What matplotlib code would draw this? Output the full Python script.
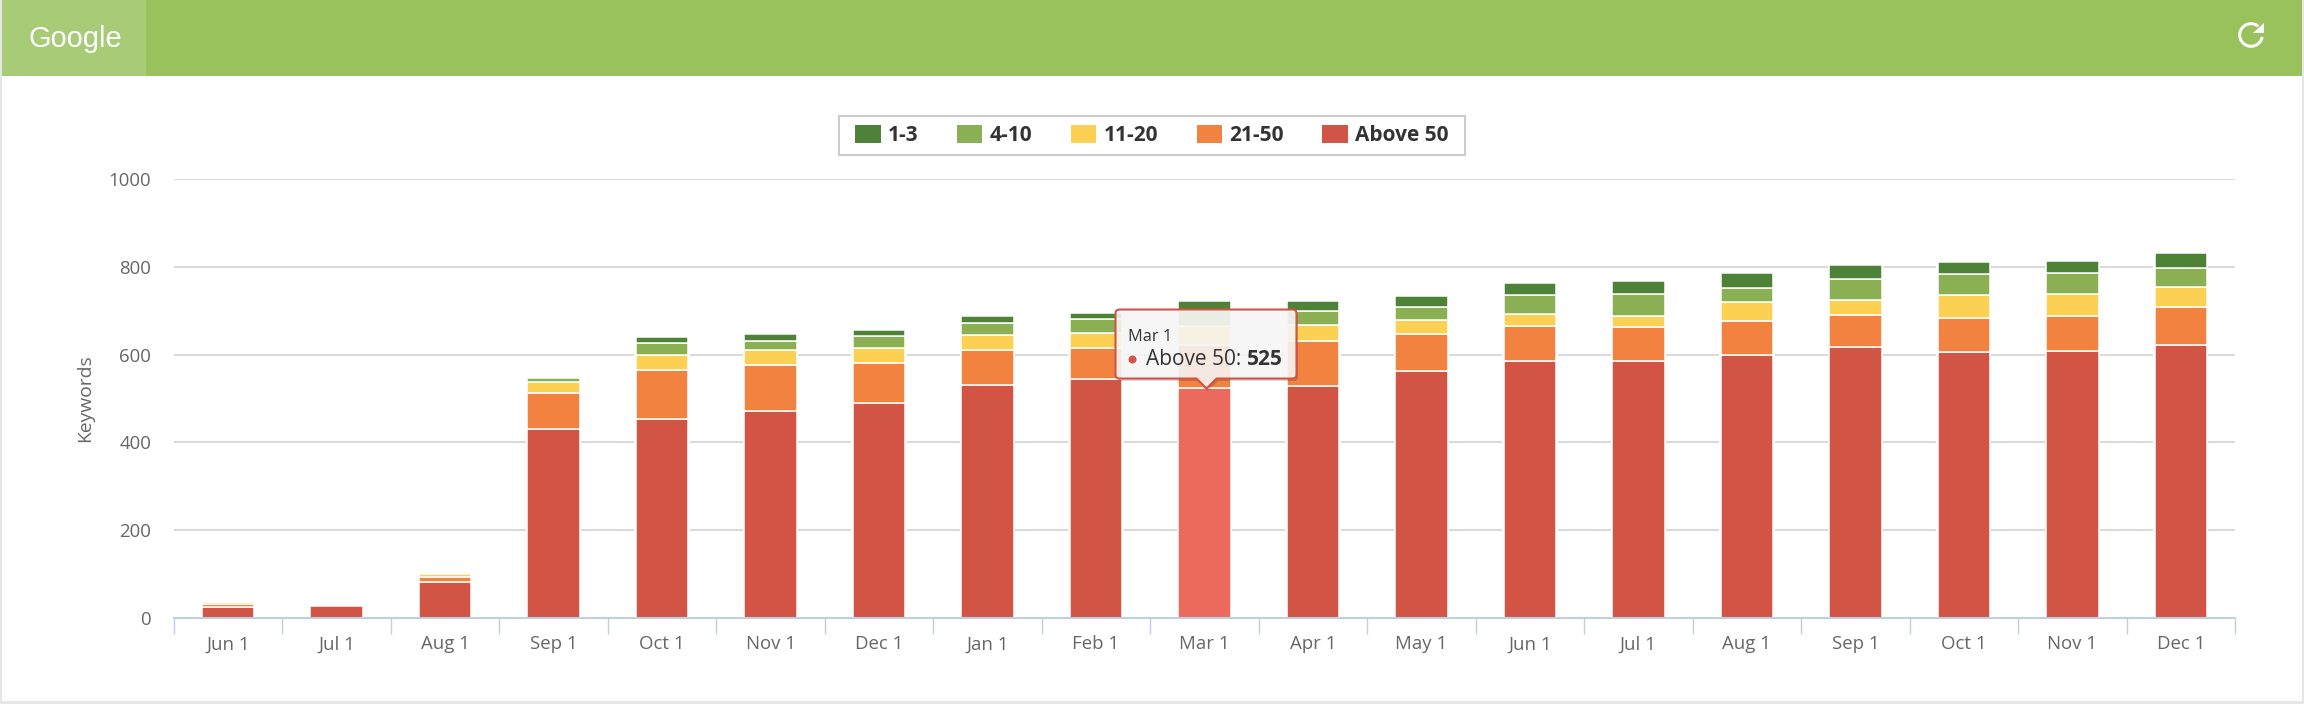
import matplotlib
matplotlib.use('Agg')
import matplotlib.pyplot as plt
from matplotlib.patches import Rectangle, PathPatch, Circle
from matplotlib.path import Path
from matplotlib.transforms import IdentityTransform, Affine2D

plt.rcParams['font.family'] = ['Open Sans', 'DejaVu Sans']

months = ['Jun 1', 'Jul 1', 'Aug 1', 'Sep 1', 'Oct 1', 'Nov 1', 'Dec 1', 'Jan 1', 'Feb 1', 'Mar 1',
          'Apr 1', 'May 1', 'Jun 1', 'Jul 1', 'Aug 1', 'Sep 1', 'Oct 1', 'Nov 1', 'Dec 1']

above_50 = [26, 27, 82, 431, 453, 472, 490, 530, 545, 525, 528, 563, 586, 586, 600, 618, 605, 608, 623]
r21_50 = [6, 0, 11, 81, 113, 105, 91, 81, 70, 97, 103, 84, 80, 76, 76, 73, 79, 79, 86]
r11_20 = [4, 0, 7, 25, 34, 33, 33, 33, 34, 43, 36, 32, 26, 25, 44, 33, 51, 52, 44]
r4_10 = [0, 0, 0, 9, 26, 22, 28, 29, 31, 37, 33, 30, 43, 52, 32, 48, 48, 48, 44]
r1_3 = [0, 0, 0, 0, 13, 14, 15, 15, 14, 19, 21, 24, 28, 28, 33, 31, 27, 27, 35]

W, H = 2304, 704
hover_idx = 9


def fx(px):
    return px / W


def fy(px):
    return 1 - px / H


# rounded box with the little pointer at the bottom, in display pixels
def tooltip_path(x0, x1, y0, y1, tip_x, tip_y, r=4):
    verts = [(x0 + r, y1), (x1 - r, y1), (x1, y1), (x1, y1 - r), (x1, y0 + r), (x1, y0), (x1 - r, y0),
             (tip_x + 10, y0), (tip_x, tip_y), (tip_x - 10, y0),
             (x0 + r, y0), (x0, y0), (x0, y0 + r), (x0, y1 - r), (x0, y1), (x0 + r, y1)]
    codes = [Path.MOVETO, Path.LINETO, Path.CURVE3, Path.CURVE3, Path.LINETO, Path.CURVE3, Path.CURVE3,
             Path.LINETO, Path.LINETO, Path.LINETO,
             Path.LINETO, Path.CURVE3, Path.CURVE3, Path.LINETO, Path.CURVE3, Path.CURVE3]
    return Path(verts, codes)


fig = plt.figure(figsize=(W / 100, H / 100), dpi=100, facecolor='#E6E6E6')

# card and header
fig.add_artist(Rectangle((fx(2), fy(701)), fx(2300), 701 / H, transform=fig.transFigure,
                         facecolor='white', edgecolor='none', zorder=-3))
fig.add_artist(Rectangle((fx(2), fy(76)), fx(2300), 76 / H, transform=fig.transFigure,
                         facecolor='#99C25D', edgecolor='none', zorder=-2))
fig.add_artist(Rectangle((fx(2), fy(76)), fx(144), 76 / H, transform=fig.transFigure,
                         facecolor='#A8CB78', edgecolor='none', zorder=-1))
fig.text(fx(28), fy(47), 'Google', color='white', fontsize=20.9, family='Liberation Sans', va='baseline')

ax = fig.add_axes([fx(174), fy(618), fx(2235 - 174), (618 - 179) / H])
ax.patch.set_alpha(0)

x = list(range(len(months)))
totals = [a + b + c + d + e for a, b, c, d, e in zip(above_50, r21_50, r11_20, r4_10, r1_3)]
# white halo so the grid lines stop short of the bars
ax.bar(x, totals, width=0.51, color='white', zorder=2)

colors_above = ['#EB6A5C' if i == hover_idx else '#D25445' for i in x]
bottom = [0] * len(x)
bars = []
for vals, col, name in [(above_50, colors_above, 'Above 50'), (r21_50, '#F28240', '21-50'),
                        (r11_20, '#FCD053', '11-20'), (r4_10, '#8BB053', '4-10'), (r1_3, '#4E8236', '1-3')]:
    # zero height segments would still paint a white edge
    xs = [i for i in x if vals[i] > 0]
    cs = [col[i] for i in xs] if isinstance(col, list) else col
    b = ax.bar(xs, [vals[i] for i in xs], bottom=[bottom[i] for i in xs], width=0.484, color=cs,
               edgecolor='white', linewidth=1.1, label=name, zorder=3)
    bars.append(b)
    bottom = [bottom[i] + vals[i] for i in x]

ax.set_xlim(-0.5, len(months) - 0.5)
ax.set_ylim(0, 1000)
ax.set_yticks(range(0, 1001, 200))
ax.set_xticks(x)
ax.set_xticklabels(months)
ax.set_xticks([i - 0.5 for i in range(len(months) + 1)], minor=True)
ax.tick_params(axis='x', which='major', length=0, pad=12.5, labelsize=13.4, labelcolor='#666666')
ax.tick_params(axis='x', which='minor', length=11.5, width=1, color='#C0D0E0')
ax.tick_params(axis='y', length=0, pad=16.5, labelsize=13.4, labelcolor='#666666')
ax.grid(axis='y', color='#DADADA', linewidth=1.5, zorder=0)
ax.set_axisbelow(True)
for side in ['top', 'left', 'right']:
    ax.spines[side].set_visible(False)
ax.spines['bottom'].set_color('#C0D0E0')
ax.spines['bottom'].set_linewidth(1.5)
ax.spines['bottom'].set_zorder(4)

ax.set_ylabel('Keywords', fontsize=13.9, color='#666666')
ax.yaxis.set_label_coords((94 - 174) / (2235 - 174), 0.5)

ident = IdentityTransform()

# legend box drawn apart, the text rows of the font are too tall for borderpad
ax.add_patch(Rectangle((839, H - 155), 626, 39, transform=ident, facecolor='white', edgecolor='#CCCCCC',
                       linewidth=1.5, clip_on=False, zorder=5))
leg = ax.legend(handles=bars[::-1], labels=['1-3', '4-10', '11-20', '21-50', 'Above 50'], ncol=5,
                loc='center', bbox_to_anchor=((1152 - 174) / (2235 - 174), (618 - 135.5) / (618 - 179)),
                frameon=False, borderpad=0, prop={'size': 15, 'weight': 'bold'}, labelcolor='#333333',
                handlelength=1.22, handleheight=0.95, handletextpad=0.35, columnspacing=1.85, borderaxespad=0)
leg.set_zorder(6)
for h in leg.legend_handles:
    h.set_edgecolor('none')

# hover tooltip sits on the Mar 1 point
tip_x, tip_y = ax.transData.transform((hover_idx, above_50[hover_idx]))
tip_x += 2
tip_y -= 1
y_low = tip_y + 10
y_high = tip_y + 79
x_low = tip_x - 91
x_high = tip_x + 90
path = tooltip_path(x_low, x_high, y_low, y_high, tip_x, tip_y)
ax.add_patch(PathPatch(path.transformed(Affine2D().translate(1.5, -2.5)), transform=ident, facecolor='black',
                       alpha=0.15, edgecolor='none', clip_on=False, zorder=7))
ax.add_patch(PathPatch(path, transform=ident, facecolor=(0.985, 0.985, 0.985, 0.87), edgecolor='#D25445',
                       linewidth=1.5, clip_on=False, zorder=8))
ax.text(x_low + 12, tip_y + 52, 'Mar 1', transform=ident, fontsize=11.8, color='#333333', va='center', zorder=9)
ax.add_patch(Circle((x_low + 17, tip_y + 29), 4, transform=ident, facecolor='#D25445', edgecolor='none',
                    clip_on=False, zorder=9))
ax.text(x_low + 30, tip_y + 29, 'Above 50:', transform=ident, fontsize=15, color='#333333', va='center', zorder=9)
ax.text(x_low + 167, tip_y + 29, str(above_50[hover_idx]), transform=ident, fontsize=15, fontweight='bold',
        color='#333333', va='center', ha='right', zorder=9)

# refresh icon
arc = Path.arc(50, 350)
arc = arc.transformed(Affine2D().scale(11.3).translate(2251, H - 35))
ax.add_patch(PathPatch(arc, transform=ident, fill=False, edgecolor='white', linewidth=2.2,
                       clip_on=False, zorder=9))
ax.add_patch(PathPatch(Path([(2264, H - 22.5), (2264, H - 33), (2253, H - 33), (2264, H - 22.5)], closed=True),
                       transform=ident, facecolor='white', edgecolor='none', clip_on=False, zorder=9))

fig.savefig('out.png', dpi=100, facecolor=fig.get_facecolor())
